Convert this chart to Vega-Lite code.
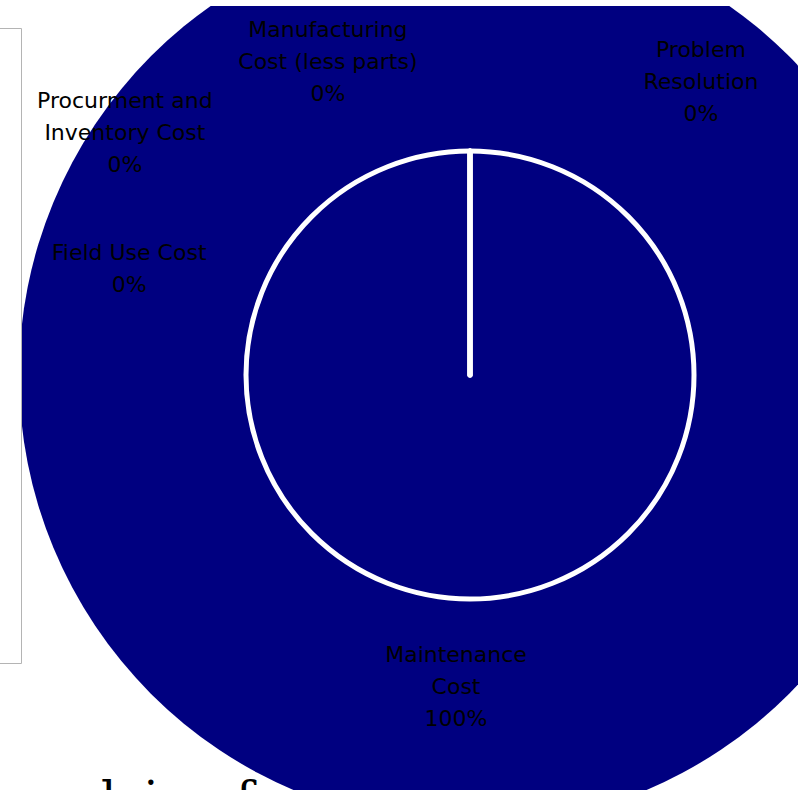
{
  "$schema": "https://vega.github.io/schema/vega-lite/v6.json",
  "width": 800,
  "height": 784,
  "autosize": "none",
  "padding": {"left": -1, "top": 6, "right": 0, "bottom": 0},
  "background": "white",
  "config": {
    "view": {"stroke": "#c8c8c8", "strokeWidth": 1}
  },
  "title": {
    "text": "evolving for",
    "orient": "bottom",
    "anchor": "start",
    "offset": -12,
    "baseline": "top",
    "font": "DejaVu Serif",
    "fontSize": 48,
    "fontWeight": "normal",
    "color": "black",
    "dx": 72
  },
  "datasets": {
    "costs": [
      {"category": "Maintenance Cost", "share": 100},
      {"category": "Field Use Cost", "share": 0},
      {"category": "Procurment and Inventory Cost", "share": 0},
      {"category": "Manufacturing Cost (less parts)", "share": 0},
      {"category": "Problem Resolution", "share": 0}
    ],
    "labels": [
      {"label": "Maintenance\nCost\n100%", "angle": 182.86, "dist": 0.62},
      {"label": "Field Use Cost\n0%", "angle": 289.7, "dist": 0.801},
      {"label": "Procurment and\nInventory Cost\n0%", "angle": 308.45, "dist": 0.975},
      {"label": "Manufacturing\nCost (less parts)\n0%", "angle": 337.6, "dist": 0.825},
      {"label": "Problem\nResolution\n0%", "angle": 35.4, "dist": 0.882}
    ]
  },
  "layer": [
    {
      "data": {"name": "costs"},
      "mark": {"type": "arc", "x": 471, "y": 369, "radius": 451, "fill": "#000080", "stroke": null, "clip": true},
      "encoding": {
        "theta": {"field": "share", "type": "quantitative", "stack": true},
        "order": {"field": "share", "type": "quantitative", "sort": "descending"}
      }
    },
    {
      "data": {"name": "costs"},
      "mark": {"type": "arc", "x": 471, "y": 369, "radius": 224, "stroke": "white", "strokeWidth": 5, "strokeJoin": "round", "clip": true},
      "encoding": {
        "theta": {"field": "share", "type": "quantitative", "stack": true},
        "order": {"field": "share", "type": "quantitative", "sort": "descending"},
        "color": {
          "field": "category",
          "type": "nominal",
          "scale": {
            "domain": ["Procurment and Inventory Cost", "Manufacturing Cost (less parts)", "Problem Resolution", "Maintenance Cost", "Field Use Cost"],
            "range": ["#000080", "#000080", "#000080", "#000080", "#000080"]
          },
          "legend": {
            "orient": "none",
            "legendX": -54,
            "legendY": 22,
            "strokeColor": "#b4b4b4",
            "fillColor": "white",
            "padding": 30,
            "rowPadding": 130,
            "labelExpr": "''",
            "symbolOpacity": 0,
            "title": null
          }
        }
      }
    },
    {
      "data": {"name": "labels"},
      "mark": {"type": "text", "x": 471, "y": 369, "font": "DejaVu Sans", "fontSize": 22, "lineBreak": "\n", "lineHeight": 32, "align": "center", "baseline": "middle", "color": "black"},
      "encoding": {
        "theta": {"field": "angle", "type": "quantitative", "scale": {"domain": [0, 360], "range": [0, 6.283185307179586]}},
        "radius": {"field": "dist", "type": "quantitative", "scale": {"type": "linear", "domain": [0, 1], "range": [0, 452], "zero": true}},
        "text": {"field": "label", "type": "nominal"}
      }
    }
  ],
  "resolve": {"scale": {"theta": "independent", "radius": "independent"}}
}
